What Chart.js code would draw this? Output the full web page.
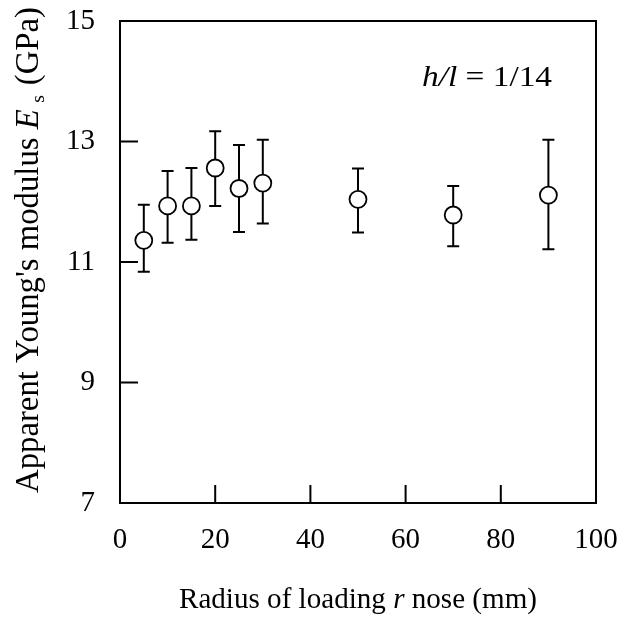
<!DOCTYPE html>
<html><head><meta charset="utf-8">
<script src="https://cdn.jsdelivr.net/npm/chart.js@4/dist/chart.umd.min.js"></script>
<style>html,body{margin:0;padding:0;background:#fff}#wrap{width:626px;height:620px}</style>
</head><body><div id="wrap"><canvas id="c" width="626" height="620"></canvas></div>
<script>
const radius = [5, 10, 15, 20, 25, 30, 50, 70, 90];
const modulus = [11.36, 11.93, 11.93, 12.56, 12.22, 12.31, 12.04, 11.78, 12.11];
const errUpper = [11.95, 12.51, 12.56, 13.17, 12.94, 13.03, 12.55, 12.26, 13.03];
const errLower = [10.84, 11.32, 11.37, 11.93, 11.50, 11.64, 11.49, 11.26, 11.21];
const xTicks = [0, 20, 40, 60, 80, 100];
const yTicks = [7, 9, 11, 13, 15];
const xTitleParts = [["Radius of loading ", false], ["r", true], [" nose (mm)", false]];
const yTitleParts = [["Apparent Young's modulus ", false], ["E", true], ["s", false, true], [" (GPa)", false]];
const annotationParts = [["h/l", true], [" = 1/14", false]];

const SERIF = '"Liberation Serif", "Times New Roman", serif';

function font(italic, size) { return (italic ? 'italic ' : '') + size + 'px ' + SERIF; }

// draw mixed-style text; parts: [text, italic, subscript?]; optionally fitted to a target width
function drawParts(ctx, parts, size, x, y, targetW, align) {
  let w = 0;
  const widths = parts.map(p => {
    const sz = p[2] ? size * 0.6 : size;
    ctx.font = font(p[1], sz);
    const ww = ctx.measureText(p[0]).width + (p[2] ? size * 0.25 : 0);
    w += ww; return ww;
  });
  const sx = targetW ? targetW / w : 1;
  ctx.save();
  ctx.translate(x, y);
  ctx.scale(sx, 1);
  let cx = align === 'center' ? -w / 2 : 0;
  parts.forEach((p, i) => {
    const sz = p[2] ? size * 0.6 : size;
    ctx.font = font(p[1], sz);
    ctx.fillText(p[0], cx + (p[2] ? size * 0.2 : 0), p[2] ? size * 0.18 : 0);
    cx += widths[i];
  });
  ctx.restore();
}

const framePlugin = {
  id: 'frame',
  beforeDatasetsDraw(chart) {
    const ctx = chart.ctx, xs = chart.scales.x, ys = chart.scales.y;
    ctx.save();
    ctx.strokeStyle = '#000';
    ctx.lineWidth = 2;
    for (let i = 0; i < radius.length; i++) {
      const px = xs.getPixelForValue(radius[i]);
      const pt = ys.getPixelForValue(errUpper[i]);
      const pb = ys.getPixelForValue(errLower[i]);
      ctx.beginPath();
      ctx.moveTo(px, pt); ctx.lineTo(px, pb);
      ctx.moveTo(px - 6, pt); ctx.lineTo(px + 6, pt);
      ctx.moveTo(px - 6, pb); ctx.lineTo(px + 6, pb);
      ctx.stroke();
    }
    ctx.restore();
  },
  afterDraw(chart) {
    const ctx = chart.ctx, a = chart.chartArea, xs = chart.scales.x, ys = chart.scales.y;
    ctx.save();
    ctx.strokeStyle = '#000';
    ctx.lineWidth = 2;
    ctx.strokeRect(a.left, a.top, a.right - a.left, a.bottom - a.top);
    ctx.beginPath();
    yTicks.forEach(v => {
      if (v === ys.min || v === ys.max) return;
      const py = ys.getPixelForValue(v);
      ctx.moveTo(a.left, py); ctx.lineTo(a.left + 18, py);
    });
    xTicks.forEach(v => {
      if (v === xs.min || v === xs.max) return;
      const px = xs.getPixelForValue(v);
      ctx.moveTo(px, a.bottom); ctx.lineTo(px, a.bottom - 18);
    });
    ctx.stroke();

    ctx.fillStyle = '#000';
    // tick labels
    ctx.font = font(false, 29);
    ctx.textAlign = 'center';
    ctx.textBaseline = 'alphabetic';
    xTicks.forEach(v => ctx.fillText(String(v), xs.getPixelForValue(v), 548));
    ctx.textAlign = 'right';
    ctx.textBaseline = 'middle';
    yTicks.forEach(v => ctx.fillText(String(v), 95, ys.getPixelForValue(v)));
    ctx.textAlign = 'left';
    ctx.textBaseline = 'alphabetic';

    // x title
    drawParts(ctx, xTitleParts, 29, (a.left + a.right) / 2, 608, 358, 'center');

    // y title rotated
    ctx.save();
    ctx.translate(38, 250);
    ctx.rotate(-Math.PI / 2);
    drawParts(ctx, yTitleParts, 33, 0, 0, 486, 'center');
    ctx.restore();

    // annotation
    drawParts(ctx, annotationParts, 29, 422, 86, 130, 'left');
    ctx.restore();
  }
};

new Chart(document.getElementById('c'), {
  type: 'scatter',
  data: {
    datasets: [{
      data: radius.map((r, i) => ({ x: r, y: modulus[i] })),
      pointRadius: 8.5,
      pointHoverRadius: 8.5,
      pointBorderWidth: 1.8,
      pointBorderColor: '#000',
      pointBackgroundColor: '#fff',
      showLine: false
    }]
  },
  options: {
    responsive: false,
    animation: false,
    events: [],
    layout: { padding: { top: 21, right: 30, left: 0, bottom: 0 } },
    plugins: { legend: { display: false }, tooltip: { enabled: false } },
    scales: {
      x: {
        type: 'linear', min: 0, max: 100,
        afterBuildTicks(s) { s.ticks = xTicks.map(v => ({ value: v })); },
        afterFit(s) { s.height = 117; },
        grid: { display: false, drawTicks: false },
        border: { display: false },
        ticks: { display: false }
      },
      y: {
        type: 'linear', min: 7, max: 15,
        afterBuildTicks(s) { s.ticks = yTicks.map(v => ({ value: v })); },
        afterFit(s) { s.width = 120; },
        grid: { display: false, drawTicks: false },
        border: { display: false },
        ticks: { display: false }
      }
    }
  },
  plugins: [framePlugin]
});
</script></body></html>
